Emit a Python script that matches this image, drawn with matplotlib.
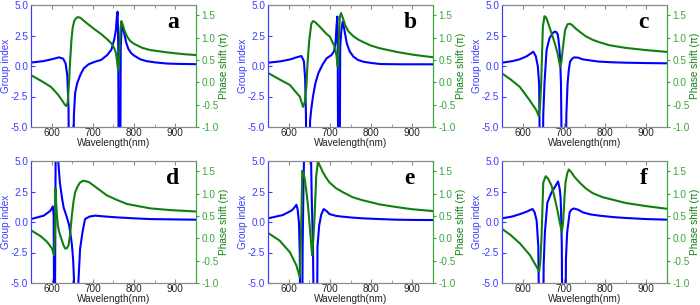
import matplotlib.pyplot as plt
from matplotlib.ticker import MultipleLocator, FormatStrFormatter

plt.rcParams['font.family'] = ['Liberation Sans', 'DejaVu Sans']

# panel a
wl_gi_a = [550, 580, 600, 618, 628, 634, 638, 641, 642, 653, 654, 657, 662, 670, 678, 690, 705, 720, 735, 745,
           752, 756, 758, 760, 761.5, 762.5, 766.5, 767.5, 770, 774, 780, 786, 793, 800, 815, 830, 850, 880, 910, 950]
gi_a = [0.28, 0.4, 0.55, 0.71, 0.6, 0.2, -0.8, -3.5, -8, -8, -4, -2.2, -1.4, -0.7, -0.19, 0.15, 0.35, 0.5, 0.9, 1.35,
        2.2, 3.0, 4.0, 4.45, 1.5, -8, -8, 1.5, 3.3, 3.0, 2.0, 1.4, 1.05, 0.85, 0.55, 0.4, 0.3, 0.2, 0.17, 0.15]
wl_ph_a = [550, 575, 598, 615, 625, 632, 636, 639, 642, 645, 648, 651, 655, 660, 664, 670, 687, 705, 720, 735, 745,
           752, 756, 759, 761, 763, 765, 767, 769, 772, 777, 783, 790, 800, 820, 840, 880, 920, 950]
ph_a = [0.16, 0.03, -0.1, -0.27, -0.4, -0.5, -0.53, -0.45, -0.03, 0.5, 0.94, 1.22, 1.38, 1.44, 1.46, 1.44, 1.31,
        1.18, 1.08, 0.96, 0.87, 0.76, 0.65, 0.45, 0.27, 0.4, 0.85, 1.2, 1.37, 1.3, 1.15, 1.02, 0.93, 0.86, 0.77,
        0.72, 0.67, 0.63, 0.61]

# panel b
wl_gi_b = [550, 580, 605, 619, 631, 637, 640, 642, 643, 651, 652, 655, 659, 665, 672, 682, 692, 704, 710, 714, 716,
           718, 719, 720, 724, 725, 728, 731, 735, 741, 748, 757, 768, 781, 800, 822, 870, 950]
gi_b = [0.27, 0.38, 0.55, 0.71, 0.82, 0.4, -1.0, -4.0, -8, -8, -4.5, -3.5, -2.5, -1.4, -0.6, 0.1, 0.63, 0.9, 1.2,
        2.0, 3.2, 4.05, 2.0, -8, -8, 1.5, 3.0, 3.63, 3.0, 1.86, 1.2, 0.77, 0.5, 0.35, 0.25, 0.16, 0.14, 0.14]
wl_ph_b = [550, 575, 603, 627, 635, 639, 643, 646, 650, 655, 659, 664, 676, 690, 700, 712, 716, 719, 721, 724, 727,
           731, 737, 745, 757, 770, 781, 800, 822, 862, 900, 950]
ph_b = [0.21, 0.08, -0.06, -0.32, -0.55, -0.45, -0.1, 0.45, 0.94, 1.31, 1.37, 1.35, 1.24, 1.1, 1.02, 0.79, 0.6,
        0.35, 0.8, 1.46, 1.55, 1.45, 1.28, 1.14, 1.03, 0.95, 0.9, 0.82, 0.76, 0.68, 0.62, 0.56]

# panel c
wl_gi_c = [550, 575, 593, 610, 617, 626, 632, 637, 640, 642, 649, 650, 653, 658, 665, 672, 677, 681, 685, 687, 689,
           691, 693, 695, 705, 706, 709, 712, 715, 720, 725, 735, 745, 765, 785, 820, 850, 900, 950]
gi_c = [0.27, 0.4, 0.55, 0.8, 0.96, 1.17, 0.8, -0.05, -1.5, -8, -8, -4, -1.4, 1.3, 2.27, 2.65, 2.81, 2.8, 2.6,
        2.13, 1.5, 0.49, -1.5, -8, -8, -4, -1.42, -0.3, 0.36, 0.6, 0.71, 0.68, 0.55, 0.45, 0.36, 0.3, 0.27, 0.24, 0.22]
wl_ph_c = [550, 570, 593, 617, 633, 639, 642, 645, 649, 653, 657, 661, 667, 673, 679, 685, 689, 691, 694, 697, 700,
           703, 709, 715, 720, 729, 740, 753, 770, 785, 810, 850, 900, 950]
ph_c = [0.2, 0.07, -0.1, -0.4, -0.62, -0.75, -0.55, -0.03, 1.24, 1.48, 1.45, 1.35, 1.18, 1.02, 0.84, 0.64, 0.45,
        0.35, 0.45, 0.72, 0.95, 1.17, 1.3, 1.31, 1.28, 1.2, 1.12, 1.03, 0.95, 0.9, 0.83, 0.77, 0.72, 0.68]

# panel d
wl_gi_d = [550, 581, 597, 603, 605, 606, 608, 609, 610, 614, 616, 620, 625, 629, 637, 642, 645, 649, 652, 654, 656,
           662, 664, 669, 675, 681, 692, 706, 730, 758, 800, 839, 900, 950]
gi_d = [0.24, 0.52, 0.92, 1.28, 0.5, -8, -8, 0, 8, 8, 5, 3.23, 2.0, 1.2, 0.38, -0.2, -0.84, -1.8, -3.0, -4.5, -8,
        -8, -5.5, -2.2, -0.8, 0.24, 0.45, 0.52, 0.45, 0.38, 0.3, 0.24, 0.21, 0.19]
wl_ph_d = [550, 573, 589, 601, 606, 608, 609.5, 611, 613, 615, 618, 621, 625, 629, 633, 637, 641, 645, 649, 653,
           657, 663, 669, 677, 690, 702, 718, 734, 758, 782, 810, 839, 890, 950]
ph_d = [0.18, 0.05, -0.08, -0.23, -0.38, 0.1, 1.11, 0.8, 0.5, 0.3, 0.15, 0.06, -0.05, -0.16, -0.23, -0.22, -0.16,
        0.1, 0.51, 0.82, 1.03, 1.16, 1.25, 1.29, 1.26, 1.18, 1.07, 0.96, 0.86, 0.77, 0.72, 0.67, 0.63, 0.6]

# panel e
wl_gi_e = [550, 586, 605, 611, 619, 622, 625, 627, 628, 633, 634, 636, 639, 653, 656, 659, 661, 669, 670, 674, 679,
           685, 692, 699, 715, 732, 755, 780, 820, 861, 900, 950]
gi_e = [0.3, 0.57, 0.9, 1.06, 1.41, 1.0, -0.03, -2.5, -8, -8, -2, 3, 8, 8, 2, -2, -8, -8, -2, -0.3, 0.6, 1.06,
        0.9, 0.65, 0.5, 0.43, 0.36, 0.3, 0.24, 0.19, 0.17, 0.16]
wl_ph_e = [550, 578, 603, 619, 627, 629, 631, 633, 636, 639, 643, 647, 650, 653, 657, 660, 663, 667, 671, 676, 683,
           690, 699, 715, 732, 755, 780, 820, 861, 900, 950]
ph_e = [0.12, -0.05, -0.31, -0.61, -0.87, -0.3, 0.51, 1.51, 1.45, 1.33, 1.05, 0.73, 0.4, 0.06, -0.38, 0.0, 0.51,
        1.4, 1.72, 1.62, 1.48, 1.37, 1.25, 1.12, 1.03, 0.92, 0.85, 0.76, 0.7, 0.65, 0.61]

# panel f
wl_gi_f = [550, 575, 594, 610, 618, 624, 629, 634, 638, 640, 650, 651, 654, 660, 670, 678, 682, 686, 690, 692, 693,
           695, 696, 704, 705, 708, 714, 718, 724, 735, 746, 765, 786, 820, 850, 900, 950]
gi_f = [0.3, 0.45, 0.65, 0.85, 0.98, 1.06, 0.8, 0.11, -2.0, -8, -8, -3.5, -0.84, 1.6, 2.42, 2.85, 3.1, 3.32, 2.69,
        2.0, 1.06, -2, -8, -8, -3, -0.84, 0.79, 1.0, 1.11, 1.0, 0.79, 0.62, 0.52, 0.4, 0.33, 0.24, 0.19]
wl_ph_f = [550, 570, 594, 618, 634, 640, 643, 646, 650, 656, 662, 670, 676, 682, 686, 690, 695, 698, 700, 702, 704,
           708, 712, 718, 726, 740, 754, 770, 794, 820, 850, 900, 950]
ph_f = [0.21, 0.08, -0.12, -0.38, -0.64, -0.74, -0.5, 0.06, 1.25, 1.39, 1.33, 1.18, 0.97, 0.73, 0.55, 0.36, 0.14,
        0.35, 0.66, 1.0, 1.25, 1.45, 1.54, 1.48, 1.37, 1.23, 1.11, 1.01, 0.92, 0.86, 0.79, 0.72, 0.66]

letters = ['a', 'b', 'c', 'd', 'e', 'f']
panels = [(wl_gi_a, gi_a, wl_ph_a, ph_a), (wl_gi_b, gi_b, wl_ph_b, ph_b), (wl_gi_c, gi_c, wl_ph_c, ph_c),
          (wl_gi_d, gi_d, wl_ph_d, ph_d), (wl_gi_e, gi_e, wl_ph_e, ph_e), (wl_gi_f, gi_f, wl_ph_f, ph_f)]

W, H = 700, 305
lefts = [31, 268, 502]
tops = [5, 161]
pw, ph_h = 165, 122

blue = '#0000ff'
lblue = '#3b3bff'
green = '#107f10'
lgreen = '#3aa63a'
grey = '#8a8a8a'

fig = plt.figure(figsize=(7, 3.05), dpi=100)
for i, (x1, y1, x2, y2) in enumerate(panels):
    left = lefts[i % 3]
    top = tops[i // 3]
    ax = fig.add_axes([left / W, (H - top - ph_h) / H, pw / W, ph_h / H])
    ax2 = ax.twinx()
    ax.plot(x1, y1, color=blue, lw=1.5)
    ax2.plot(x2, y2, color=green, lw=1.5)
    ax.set_xlim(550, 950)
    ax.set_ylim(-5, 5)
    ax2.set_ylim(-1, 1.73)
    ax.xaxis.set_major_locator(MultipleLocator(100))
    ax.xaxis.set_minor_locator(MultipleLocator(50))
    ax.yaxis.set_major_locator(MultipleLocator(2.5))
    ax.yaxis.set_major_formatter(FormatStrFormatter('%.1f'))
    ax2.yaxis.set_major_locator(MultipleLocator(0.5))
    ax2.yaxis.set_major_formatter(FormatStrFormatter('%.1f'))
    ax.tick_params(axis='x', which='both', direction='in', top=True, colors=grey, labelcolor='#222222',
                   labelsize=7.2, length=3, pad=1)
    ax.tick_params(axis='x', which='minor', length=2)
    ax.tick_params(axis='y', direction='in', colors=lblue, labelsize=7.2, length=3, pad=2)
    ax2.tick_params(axis='y', direction='out', colors=lgreen, labelsize=7.2, length=2.5, pad=1.5)
    for a in (ax, ax2):
        a.spines['top'].set_color(grey)
        a.spines['bottom'].set_color(grey)
        a.spines['left'].set_color(lblue)
        a.spines['right'].set_color(lgreen)
    ax.set_xlabel('Wavelength(nm)', fontsize=7.2, color='#222222', labelpad=0)
    ax.set_ylabel('Group index', fontsize=7.2, color=lblue, labelpad=0)
    ax2.set_ylabel('Phase shift (\u03c0)', fontsize=7.2, color=green, labelpad=0)
    ax.text(0.86, 0.86, letters[i], transform=ax.transAxes, ha='center', va='center',
            fontsize=17, fontweight='bold', family='Liberation Serif')

plt.savefig('out.png', dpi=100)
